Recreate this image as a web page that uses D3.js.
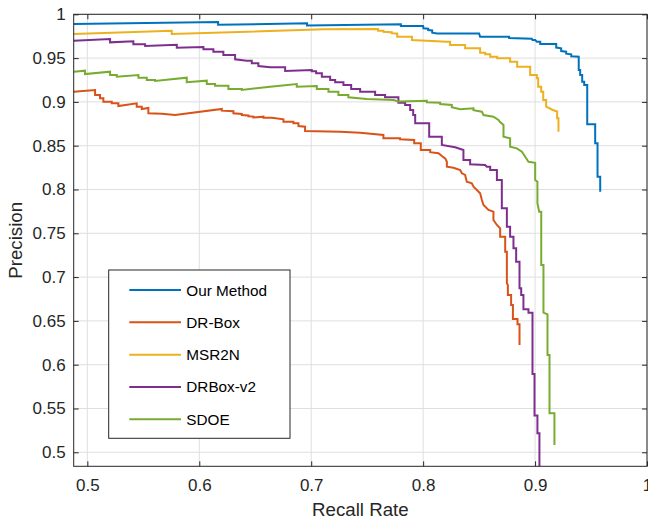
<!DOCTYPE html>
<html>
<head>
<meta charset="utf-8">
<script src="https://cdn.jsdelivr.net/npm/d3@7"></script>
<style>
  html, body { margin: 0; padding: 0; background: #fff; }
  svg { display: block; font-family: "Liberation Sans", Arial, Helvetica, sans-serif; }
</style>
</head>
<body>
<svg id="chart" width="648" height="520"></svg>
<script>
// ---------------- DATA (recall, precision) ----------------
const seriesNames = ["Our Method", "DR-Box", "MSR2N", "DRBox-v2", "SDOE"];
const seriesColors = ["#0072BD", "#D95319", "#EDB120", "#7E2F8E", "#77AC30"];

const ourMethod = [
  [0.4878,0.9889],[0.6168,0.9912],[0.6168,0.9881],[0.6963,0.9897],[0.6963,0.9872],
  [0.7801,0.9886],[0.7801,0.9866],[0.8000,0.9866],[0.8003,0.9840],[0.8045,0.9835],
  [0.8045,0.9820],[0.8081,0.9815],[0.8081,0.9790],[0.8125,0.9782],[0.8500,0.9782],
  [0.8509,0.9744],[0.8768,0.9744],[0.8768,0.9729],[0.8971,0.9721],[0.8977,0.9707],
  [0.9001,0.9707],[0.9016,0.9687],[0.9046,0.9687],[0.9046,0.9661],[0.9189,0.9661],
  [0.9189,0.9620],[0.9233,0.9612],[0.9233,0.9580],[0.9278,0.9573],[0.9278,0.9550],
  [0.9323,0.9543],[0.9323,0.9520],[0.9390,0.9516],[0.9390,0.9364],[0.9403,0.9364],
  [0.9403,0.9307],[0.9421,0.9307],[0.9421,0.9231],[0.9439,0.9231],[0.9439,0.9193],
  [0.9466,0.9193],[0.9466,0.8744],[0.9537,0.8744],[0.9537,0.8527],[0.9558,0.8527],
  [0.9558,0.8146],[0.9582,0.8146],[0.9582,0.7975]
];

const drBox = [
  [0.4878,0.9116],[0.5069,0.9136],[0.5069,0.9079],[0.5113,0.9079],[0.5113,0.9041],
  [0.5143,0.9041],[0.5143,0.9002],[0.5218,0.9002],[0.5218,0.8984],[0.5277,0.8984],
  [0.5277,0.8953],[0.5441,0.8984],[0.5441,0.8945],[0.5486,0.8945],[0.5486,0.8919],
  [0.5545,0.8930],[0.5545,0.8870],[0.5665,0.8865],[0.5784,0.8850],[0.6201,0.8919],
  [0.6201,0.8900],[0.6305,0.8893],[0.6305,0.8870],[0.6380,0.8862],[0.6380,0.8850],
  [0.6439,0.8845],[0.6439,0.8835],[0.6483,0.8832],[0.6483,0.8822],[0.6573,0.8831],
  [0.6573,0.8820],[0.6648,0.8818],[0.6752,0.8801],[0.6752,0.8774],[0.6841,0.8774],
  [0.6841,0.8756],[0.6886,0.8756],[0.6886,0.8725],[0.6945,0.8717],[0.6945,0.8668],
  [0.7258,0.8660],[0.7437,0.8648],[0.7645,0.8622],[0.7645,0.8584],[0.7794,0.8584],
  [0.7794,0.8573],[0.7920,0.8565],[0.7920,0.8527],[0.7979,0.8527],[0.7979,0.8451],
  [0.8063,0.8451],[0.8063,0.8426],[0.8137,0.8413],[0.8167,0.8382],[0.8197,0.8356],
  [0.8212,0.8317],[0.8212,0.8260],[0.8271,0.8249],[0.8331,0.8223],[0.8346,0.8185],
  [0.8375,0.8166],[0.8390,0.8089],[0.8435,0.8071],[0.8450,0.8032],[0.8480,0.7994],
  [0.8509,0.7957],[0.8525,0.7880],[0.8539,0.7823],[0.8584,0.7766],[0.8628,0.7747],
  [0.8628,0.7652],[0.8659,0.7595],[0.8688,0.7557],[0.8688,0.7461],[0.8733,0.7461],
  [0.8733,0.7290],[0.8748,0.7290],[0.8748,0.6929],[0.8757,0.6910],[0.8757,0.6796],
  [0.8786,0.6796],[0.8786,0.6682],[0.8802,0.6682],[0.8802,0.6522],[0.8843,0.6522],
  [0.8843,0.6461],[0.8861,0.6461],[0.8861,0.6225]
];

const msr2n = [
  [0.4878,0.9775],[0.5754,0.9813],[0.5754,0.9775],[0.7115,0.9829],[0.7598,0.9832],
  [0.7598,0.9813],[0.7645,0.9813],[0.7645,0.9800],[0.7720,0.9795],[0.7720,0.9783],
  [0.7768,0.9780],[0.7768,0.9744],[0.7900,0.9744],[0.7900,0.9707],[0.8212,0.9687],
  [0.8241,0.9687],[0.8241,0.9650],[0.8375,0.9650],[0.8375,0.9612],[0.8509,0.9612],
  [0.8509,0.9562],[0.8554,0.9562],[0.8554,0.9543],[0.8599,0.9543],[0.8599,0.9516],
  [0.8661,0.9516],[0.8661,0.9498],[0.8777,0.9498],[0.8777,0.9459],[0.8840,0.9459],
  [0.8840,0.9402],[0.8956,0.9402],[0.8956,0.9307],[0.9016,0.9307],[0.9016,0.9269],
  [0.9028,0.9269],[0.9028,0.9174],[0.9055,0.9174],[0.9055,0.9116],[0.9073,0.9116],
  [0.9073,0.9022],[0.9099,0.9022],[0.9099,0.8945],[0.9159,0.8908],[0.9197,0.8890],
  [0.9197,0.8813],[0.9209,0.8813],[0.9209,0.8660]
];

const drBoxV2 = [
  [0.4878,0.9699],[0.5203,0.9718],[0.5203,0.9680],[0.5411,0.9692],[0.5411,0.9658],
  [0.5516,0.9658],[0.5516,0.9638],[0.5799,0.9653],[0.5799,0.9619],[0.6037,0.9627],
  [0.6037,0.9600],[0.6126,0.9600],[0.6126,0.9573],[0.6215,0.9573],[0.6215,0.9535],
  [0.6320,0.9535],[0.6320,0.9486],[0.6424,0.9470],[0.6469,0.9470],[0.6469,0.9441],
  [0.6528,0.9441],[0.6528,0.9410],[0.6633,0.9395],[0.6767,0.9395],[0.6767,0.9353],
  [0.7005,0.9364],[0.7005,0.9350],[0.7044,0.9350],[0.7044,0.9326],[0.7095,0.9326],
  [0.7095,0.9288],[0.7169,0.9288],[0.7169,0.9250],[0.7214,0.9250],[0.7214,0.9224],
  [0.7288,0.9224],[0.7288,0.9193],[0.7357,0.9193],[0.7357,0.9147],[0.7437,0.9147],
  [0.7437,0.9116],[0.7571,0.9116],[0.7571,0.9079],[0.7660,0.9079],[0.7660,0.9053],
  [0.7779,0.9053],[0.7779,0.8991],[0.7839,0.8991],[0.7839,0.8965],[0.7884,0.8965],
  [0.7884,0.8908],[0.7911,0.8908],[0.7911,0.8850],[0.7929,0.8850],[0.7929,0.8756],
  [0.8054,0.8756],[0.8054,0.8603],[0.8167,0.8603],[0.8167,0.8508],[0.8286,0.8482],
  [0.8360,0.8451],[0.8360,0.8337],[0.8420,0.8337],[0.8420,0.8288],[0.8554,0.8280],
  [0.8569,0.8260],[0.8599,0.8260],[0.8599,0.8223],[0.8659,0.8223],[0.8659,0.8108],
  [0.8703,0.8108],[0.8703,0.7785],[0.8748,0.7785],[0.8748,0.7575],[0.8777,0.7575],
  [0.8777,0.7461],[0.8807,0.7461],[0.8807,0.7329],[0.8831,0.7329],[0.8831,0.7176],
  [0.8861,0.7176],[0.8861,0.6872],[0.8876,0.6872],[0.8876,0.6796],[0.8896,0.6796],
  [0.8896,0.6633],[0.8941,0.6633],[0.8941,0.6594],[0.8977,0.6594],[0.8977,0.5894],
  [0.8995,0.5894],[0.8995,0.5420],[0.9021,0.5420],[0.9021,0.5217],[0.9039,0.5217],
  [0.9039,0.4800]
];

const sdoe = [
  [0.4878,0.9345],[0.4979,0.9356],[0.4979,0.9318],[0.5203,0.9345],[0.5203,0.9307],
  [0.5263,0.9307],[0.5263,0.9288],[0.5456,0.9307],[0.5456,0.9276],[0.5531,0.9276],
  [0.5531,0.9250],[0.5605,0.9250],[0.5605,0.9239],[0.5888,0.9276],[0.5888,0.9224],
  [0.6067,0.9242],[0.6067,0.9204],[0.6141,0.9204],[0.6141,0.9185],[0.6260,0.9185],
  [0.6260,0.9147],[0.6380,0.9147],[0.6380,0.9136],[0.6633,0.9174],[0.6871,0.9204],
  [0.6871,0.9174],[0.7050,0.9182],[0.7050,0.9147],[0.7154,0.9147],[0.7154,0.9116],
  [0.7243,0.9116],[0.7243,0.9079],[0.7332,0.9079],[0.7332,0.9053],[0.7497,0.9033],
  [0.7735,0.9022],[0.7779,0.9005],[0.8033,0.9014],[0.8033,0.8995],[0.8152,0.8991],
  [0.8152,0.8975],[0.8256,0.8965],[0.8256,0.8940],[0.8331,0.8916],[0.8450,0.8927],
  [0.8450,0.8905],[0.8525,0.8888],[0.8539,0.8850],[0.8628,0.8831],[0.8673,0.8793],
  [0.8688,0.8770],[0.8718,0.8736],[0.8718,0.8603],[0.8777,0.8584],[0.8777,0.8489],
  [0.8837,0.8470],[0.8882,0.8432],[0.8912,0.8374],[0.8941,0.8317],[0.9001,0.8305],
  [0.9001,0.8108],[0.9021,0.8089],[0.9021,0.7842],[0.9037,0.7747],[0.9055,0.7747],
  [0.9055,0.7138],[0.9075,0.7138],[0.9075,0.6594],[0.9111,0.6575],[0.9111,0.6111],
  [0.9129,0.6111],[0.9129,0.5445],[0.9173,0.5445],[0.9173,0.5083]
];

const seriesData = [ourMethod, drBox, msr2n, drBoxV2, sdoe];

const xTicks = [0.5, 0.6, 0.7, 0.8, 0.9, 1];
const yTicks = [0.5, 0.55, 0.6, 0.65, 0.7, 0.75, 0.8, 0.85, 0.9, 0.95, 1];
const xDomain = [0.4878, 1];
const yDomain = [0.484, 1];
const xLabel = "Recall Rate";
const yLabel = "Precision";

// ---------------- LAYOUT ----------------
const svg = d3.select("#chart");
const L = 73.7, R = 647, T = 14.3, B = 466.3;
const axisColor = "#262626";
const gridColor = "#dfdfdf";
const tickFont = 17;

const x = d3.scaleLinear().domain(xDomain).range([L, R]);
const y = d3.scaleLinear().domain(yDomain).range([B, T]);

svg.append("rect").attr("x", 0).attr("y", 0).attr("width", 648).attr("height", 520).attr("fill", "#fff");

// grid
const grid = svg.append("g");
grid.selectAll("line.gx").data(xTicks).join("line")
  .attr("x1", d => x(d)).attr("x2", d => x(d)).attr("y1", T).attr("y2", B)
  .attr("stroke", gridColor).attr("stroke-width", 1);
grid.selectAll("line.gy").data(yTicks).join("line")
  .attr("y1", d => y(d)).attr("y2", d => y(d)).attr("x1", L).attr("x2", R)
  .attr("stroke", gridColor).attr("stroke-width", 1);

// clip
svg.append("defs").append("clipPath").attr("id", "plotClip")
  .append("rect").attr("x", L).attr("y", T).attr("width", R - L).attr("height", B - T);

// lines
const line = d3.line().x(d => x(d[0])).y(d => y(d[1]));
const linesG = svg.append("g").attr("clip-path", "url(#plotClip)");
seriesData.forEach((s, i) => {
  linesG.append("path").datum(s)
    .attr("d", line)
    .attr("fill", "none")
    .attr("stroke", seriesColors[i])
    .attr("stroke-width", 2)
    .attr("stroke-linejoin", "miter");
});

// axes
const fmt = d3.format("~g");
function styleAxis(g) {
  g.select(".domain").remove();
  g.selectAll(".tick line").attr("stroke", axisColor);
  g.selectAll(".tick text").attr("fill", axisColor).attr("font-size", tickFont)
    .attr("font-family", "'Liberation Sans', Arial, Helvetica, sans-serif");
}
svg.append("g").attr("transform", `translate(0,${B})`)
  .call(d3.axisBottom(x).tickValues(xTicks).tickFormat(fmt).tickSizeInner(-5).tickSizeOuter(0).tickPadding(12.5))
  .call(styleAxis);
svg.append("g").attr("transform", `translate(0,${T})`)
  .call(d3.axisTop(x).tickValues(xTicks).tickFormat("").tickSizeInner(-5).tickSizeOuter(0))
  .call(styleAxis);
svg.append("g").attr("transform", `translate(${L},0)`)
  .call(d3.axisLeft(y).tickValues(yTicks).tickFormat(fmt).tickSizeInner(-5).tickSizeOuter(0).tickPadding(8))
  .call(styleAxis);
svg.append("g").attr("transform", `translate(${R},0)`)
  .call(d3.axisRight(y).tickValues(yTicks).tickFormat("").tickSizeInner(-5).tickSizeOuter(0))
  .call(styleAxis);

// box
svg.append("rect").attr("x", L).attr("y", T).attr("width", R - L).attr("height", B - T)
  .attr("fill", "none").attr("stroke", axisColor).attr("stroke-width", 1);

// axis labels
svg.append("text").attr("x", (L + R) / 2).attr("y", 516)
  .attr("text-anchor", "middle").attr("font-size", 18.7).attr("fill", axisColor)
  .text(xLabel);
svg.append("text").attr("transform", `translate(22,${(T + B) / 2}) rotate(-90)`)
  .attr("text-anchor", "middle").attr("font-size", 18.7).attr("fill", axisColor)
  .text(yLabel);

// legend
const leg = svg.append("g");
const lx0 = 108.7, ly0 = 270, lw = 181.3, lh = 168.3;
leg.append("rect").attr("x", lx0).attr("y", ly0).attr("width", lw).attr("height", lh)
  .attr("fill", "#fff").attr("stroke", axisColor).attr("stroke-width", 1);
const rowY = d3.scalePoint().domain(seriesNames).range([290, 419.3]);
seriesNames.forEach((name, i) => {
  const yy = rowY(name);
  leg.append("line").attr("x1", 129.3).attr("x2", 181).attr("y1", yy).attr("y2", yy)
    .attr("stroke", seriesColors[i]).attr("stroke-width", 2);
  leg.append("text").attr("x", 186.3).attr("y", yy).attr("dy", "0.36em")
    .attr("font-size", 15.3).attr("fill", "#000").text(name);
});
</script>
</body>
</html>
